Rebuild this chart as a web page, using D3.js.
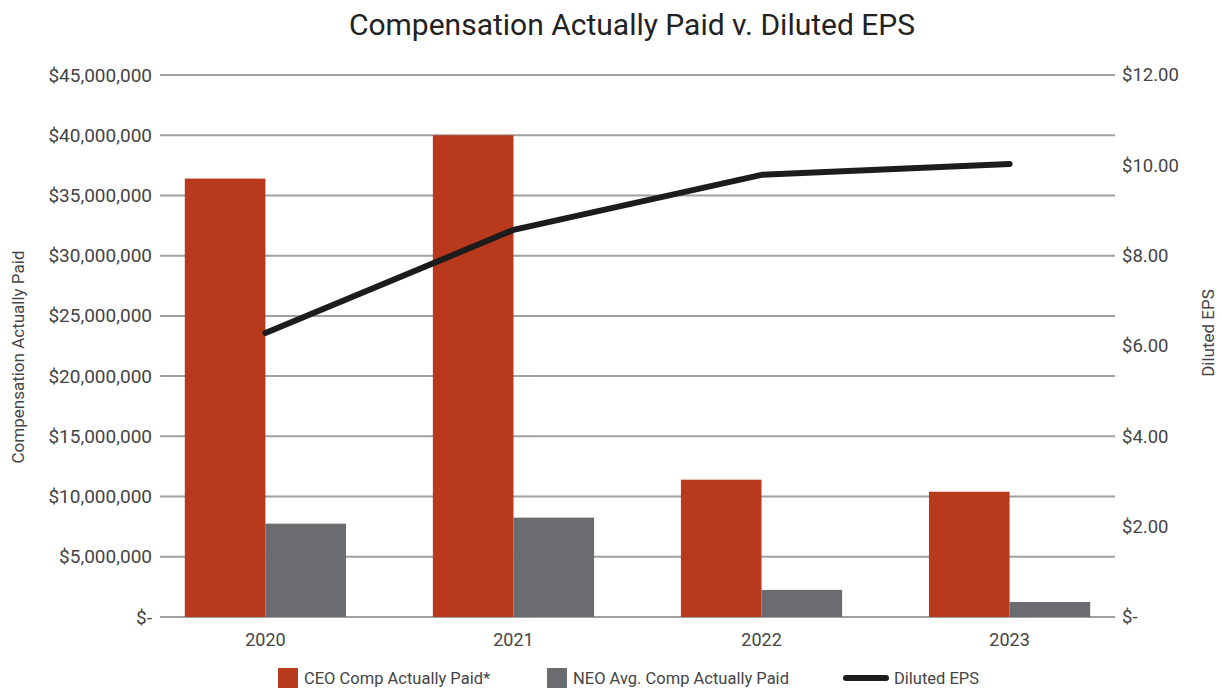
<!DOCTYPE html>
<html>
<head>
<meta charset="utf-8">
<script src="https://cdn.jsdelivr.net/npm/d3@7"></script>
<style>
  body { margin: 0; background: #fff; }
  text { font-family: Roboto, 'Noto Sans', sans-serif; }
</style>
</head>
<body>
<div class="chart"></div>
<script>
// DATA
// ----------------------------
const years = ['2020', '2021', '2022', '2023']
const ceoPaid = [36400000, 40000000, 11400000, 10400000]
const neoPaid = [7750000, 8250000, 2250000, 1250000]
const dilutedEps = [6.29, 8.57, 9.79, 10.03]
const leftTicks = [0, 5e6, 10e6, 15e6, 20e6, 25e6, 30e6, 35e6, 40e6, 45e6]
const rightTicks = [0, 2, 4, 6, 8, 10, 12]
const seriesNames = ['CEO Comp Actually Paid*', 'NEO Avg. Comp Actually Paid', 'Diluted EPS']

// SETUP
// ----------------------------
const fullWidth = 1222
const fullHeight = 692
const margin = { top: 75, bottom: 75, left: 160, right: 107 }
const width = fullWidth - margin.left - margin.right
const height = fullHeight - margin.top - margin.bottom

const colors = { ceo: '#b8391b', neo: '#6b6c70', eps: '#1c1c1c', grid: '#a0a0a0', text: '#444' }

const svg = d3.select('.chart')
  .append('svg')
    .attr('width', fullWidth)
    .attr('height', fullHeight)

const g = svg.append('g')
    .attr('transform', `translate(${margin.left}, ${margin.top})`)

// scales
const x0 = d3.scaleBand()
  .domain(years)
  .range([0, width])
  .paddingInner(0.35)
  .paddingOuter(0.1)

const x1 = d3.scaleBand()
  .domain(['ceo', 'neo'])
  .range([0, x0.bandwidth()])

const yLeft = d3.scaleLinear().domain([0, 45e6]).range([height, 0])
const yRight = d3.scaleLinear().domain([0, 12]).range([height, 0])

// gridlines
g.selectAll('.grid')
  .data(leftTicks)
  .enter()
  .append('line')
    .attr('x1', 0)
    .attr('x2', width)
    .attr('y1', d => yLeft(d))
    .attr('y2', d => yLeft(d))
    .style('stroke', colors.grid)
    .style('stroke-width', 2)

// left axis
const moneyFmt = d3.format('$,.0f')
const leftAxis = d3.axisLeft(yLeft)
  .tickValues(leftTicks)
  .tickSize(0)
  .tickPadding(8)
  .tickFormat(d => d === 0 ? '$-' : moneyFmt(d))
g.append('g').call(leftAxis)
  .call(a => a.select('.domain').remove())
  .selectAll('text')
    .style('font-size', '19px')
    .style('fill', colors.text)

// right axis
const rightAxis = d3.axisRight(yRight)
  .tickValues(rightTicks)
  .tickSize(0)
  .tickPadding(7)
  .tickFormat(d => d === 0 ? '$-' : d3.format('$.2f')(d))
g.append('g')
    .attr('transform', `translate(${width}, 0)`)
  .call(rightAxis)
  .call(a => a.select('.domain').remove())
  .selectAll('text')
    .style('font-size', '18.5px')
    .style('fill', colors.text)

// x axis
g.append('g')
    .attr('transform', `translate(0, ${height})`)
  .call(d3.axisBottom(x0).tickSize(0).tickPadding(16))
  .call(a => a.select('.domain').remove())
  .selectAll('text')
    .style('font-size', '18px')
    .style('fill', colors.text)

// bars
const groups = g.selectAll('.year')
  .data(years)
  .enter()
  .append('g')
    .attr('class', 'year')
    .attr('transform', d => `translate(${x0(d)}, 0)`)

groups.append('rect')
    .attr('x', x1('ceo'))
    .attr('width', x1.bandwidth())
    .attr('y', (d, i) => yLeft(ceoPaid[i]))
    .attr('height', (d, i) => height - yLeft(ceoPaid[i]))
    .style('fill', colors.ceo)

groups.append('rect')
    .attr('x', x1('neo'))
    .attr('width', x1.bandwidth())
    .attr('y', (d, i) => yLeft(neoPaid[i]))
    .attr('height', (d, i) => height - yLeft(neoPaid[i]))
    .style('fill', colors.neo)

// EPS line
const line = d3.line()
  .x((d, i) => x0(years[i]) + x0.bandwidth() / 2)
  .y(d => yRight(d))

g.append('path')
    .datum(dilutedEps)
    .attr('d', line)
    .style('fill', 'none')
    .style('stroke', colors.eps)
    .style('stroke-width', 6)
    .style('stroke-linecap', 'round')
    .style('stroke-linejoin', 'round')

// title
svg.append('text')
    .attr('x', 632)
    .attr('y', 35)
    .style('text-anchor', 'middle')
    .style('font-size', '30px')
    .style('fill', '#222')
    .text('Compensation Actually Paid v. Diluted EPS')

// axis titles
svg.append('text')
    .attr('transform', 'translate(24, 357) rotate(-90)')
    .style('text-anchor', 'middle')
    .style('font-size', '17px')
    .style('fill', colors.text)
    .text('Compensation Actually Paid')

svg.append('text')
    .attr('transform', 'translate(1214, 333) rotate(-90)')
    .style('text-anchor', 'middle')
    .style('font-size', '17px')
    .style('fill', colors.text)
    .text('Diluted EPS')

// legend
const legend = svg.append('g').attr('transform', 'translate(0, 678)')
const legendItems = [
  { name: seriesNames[0], type: 'rect', color: colors.ceo, x: 278 },
  { name: seriesNames[1], type: 'rect', color: colors.neo, x: 547 },
  { name: seriesNames[2], type: 'line', color: colors.eps, x: 844 }
]
legendItems.forEach(item => {
  if (item.type === 'rect') {
    legend.append('rect')
        .attr('x', item.x)
        .attr('y', -10)
        .attr('width', 20)
        .attr('height', 20)
        .style('fill', item.color)
  } else {
    legend.append('line')
        .attr('x1', item.x + 2)
        .attr('x2', item.x + 42)
        .attr('y1', 0)
        .attr('y2', 0)
        .style('stroke', item.color)
        .style('stroke-width', 6)
        .style('stroke-linecap', 'round')
  }
  legend.append('text')
      .attr('x', item.x + (item.type === 'rect' ? 26 : 50))
      .attr('y', 6)
      .style('font-size', '16.5px')
      .style('fill', colors.text)
      .text(item.name)
})
</script>
</body>
</html>
